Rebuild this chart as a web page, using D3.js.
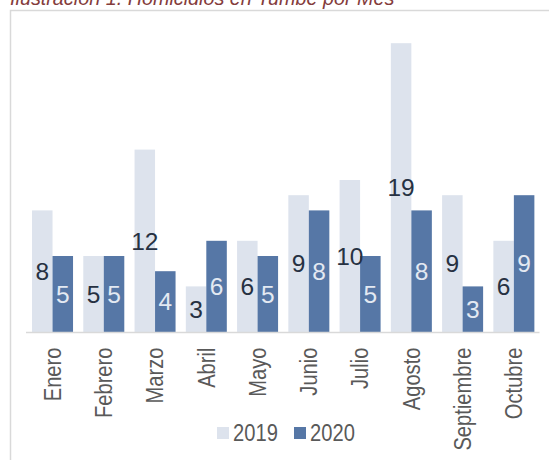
<!DOCTYPE html>
<html><head><meta charset="utf-8">
<script src="https://cdn.jsdelivr.net/npm/d3@7"></script>
<style>body{margin:0;background:#fff}svg{display:block}</style>
</head><body>
<svg id="c" width="549" height="460"></svg>
<script>
const title = "Ilustración 1. Homicidios en Tumbe por Mes";
const months = ["Enero","Febrero","Marzo","Abril","Mayo","Junio","Julio","Agosto","Septiembre","Octubre"];
const series = ["2019","2020"];
const v2019 = [8,5,12,3,6,9,10,19,9,6];
const v2020 = [5,5,4,6,5,8,5,8,3,9];
const colors = ["#dde3ed","#5677a6"];
const labelColors = ["#263142","#e3e9f2"];

const svg = d3.select("#c");
const sans = "'Liberation Sans',Arial,sans-serif";
const condense = 0.84;

svg.append("rect").attr("x",10.5).attr("y",10.5).attr("width",700).attr("height",600)
  .attr("fill","none").attr("stroke","#d9d9d9").attr("stroke-width",1.5);

svg.append("text").attr("x",10).attr("y",5).text(title)
  .attr("font-family",sans).attr("font-style","italic")
  .attr("font-size",19.8).attr("fill","#843c3c");

const x0 = d3.scaleBand().domain(months).range([26.9,539.5]).paddingInner(0.2).paddingOuter(0.1);
const x1 = d3.scaleBand().domain(series).range([0,x0.bandwidth()]);
const y = d3.scaleLinear().domain([0,20]).range([332,28]);

const data = months.map((m,i)=>({m, vals:[v2019[i],v2020[i]]}));

const g = svg.selectAll("g.grp").data(data).join("g").attr("class","grp")
  .attr("transform",d=>`translate(${x0(d.m)},0)`);

g.selectAll("rect").data(d=>d.vals.map((v,j)=>({s:series[j],v,j}))).join("rect")
  .attr("x",d=>x1(d.s)).attr("width",x1.bandwidth())
  .attr("y",d=>y(d.v)).attr("height",d=>y(0)-y(d.v))
  .attr("fill",d=>colors[d.j]);

g.selectAll("text.lbl").data(d=>d.vals.map((v,j)=>({s:series[j],v,j}))).join("text")
  .attr("class","lbl")
  .attr("x",d=>x1(d.s)+x1.bandwidth()/2).attr("y",d=>(y(d.v)+y(0))/2)
  .attr("dy","0.36em").attr("text-anchor","middle")
  .attr("font-family",sans).attr("font-size",24.5)
  .attr("fill",d=>labelColors[d.j]).text(d=>d.v);

// baseline
svg.append("line").attr("x1",26).attr("x2",539.5).attr("y1",332.5).attr("y2",332.5)
  .attr("stroke","#d9d9d9").attr("stroke-width",1.5);

// month labels
const xAxis = d3.axisBottom(x0).tickSize(0).tickPadding(0);
const ax = svg.append("g").attr("transform","translate(0,332)").call(xAxis);
ax.select(".domain").remove();
ax.selectAll("text")
  .attr("transform",`translate(0,15.5) rotate(-90) scale(${condense},1)`)
  .attr("x",0).attr("y",0).attr("dy","0.35em")
  .attr("text-anchor","end")
  .attr("font-family",sans).attr("font-size",24).attr("fill","#595959");

// legend
const lg = svg.append("g");
const legX = [217,294];
series.forEach((s,j)=>{
  lg.append("rect").attr("x",legX[j]).attr("y",427).attr("width",12).attr("height",12).attr("fill",colors[j]);
  lg.append("text").attr("transform",`translate(${legX[j]+16},441) scale(${condense},1)`).text(s)
    .attr("font-family",sans).attr("font-size",24).attr("fill","#595959");
});
</script>
</body></html>
